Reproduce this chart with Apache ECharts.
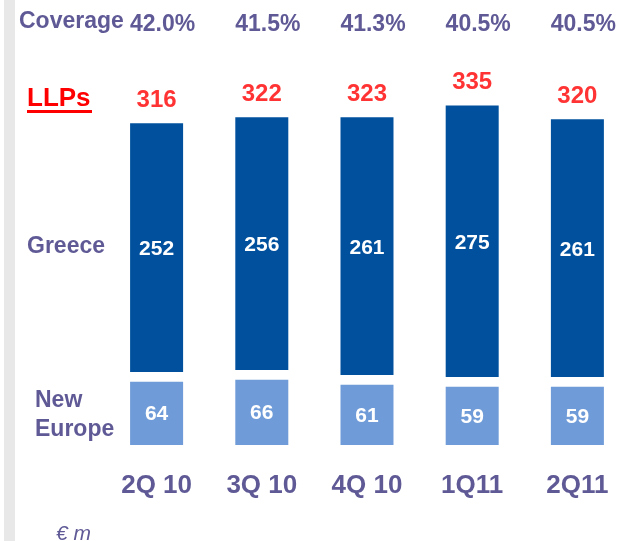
<!DOCTYPE html>
<html>
<head>
<meta charset="utf-8">
<script src="https://cdn.jsdelivr.net/npm/echarts@6/dist/echarts.min.js"></script>
<style>
html,body{margin:0;padding:0;background:#fff;}
#c{width:619px;height:541px;}
</style>
</head>
<body>
<div id="c"></div>
<script>
// ---- data ----
const categories = ['2Q 10', '3Q 10', '4Q 10', '1Q11', '2Q11'];
const coverage = ['42.0%', '41.5%', '41.3%', '40.5%', '40.5%'];
const newEurope = [64, 66, 61, 59, 59];
const greece = [252, 256, 261, 275, 261];
const totals = [316, 322, 323, 335, 320];
const seriesNames = ['New Europe', 'Greece'];

// ---- style ----
const FONT = '"Liberation Sans", Arial, sans-serif';
const PURPLE = '#5F5A96';
const RED = '#FF0000';
const DARK = '#00509E';
const LIGHT = '#6F9CD8';
const GAP = 10;      // visual gap between the two stacked segments (axis units)
const BAR_W = 53;    // bar width, px

const idx = categories.map((_, i) => i);

// segment renderer: item = [x, low, high, shownValue]
function segment(color, dy) {
  return function (params, api) {
    const x = api.value(0), lo = api.value(1), hi = api.value(2), shown = api.value(3);
    const p0 = api.coord([x, lo]);
    const p1 = api.coord([x, hi]);
    return {
      type: 'group',
      children: [
        {type: 'rect', shape: {x: p0[0] - BAR_W / 2, y: p1[1], width: BAR_W, height: p0[1] - p1[1]}, style: {fill: color}},
        {type: 'text', x: p0[0], y: (p0[1] + p1[1]) / 2 + dy,
          style: {text: String(shown), fill: '#fff', font: 'bold 21px ' + FONT, align: 'center', verticalAlign: 'middle'}}
      ]
    };
  };
}

const neData = newEurope.map((v, i) => [i, 0, v, v]);
const grData = greece.map((v, i) => [i, newEurope[i] + GAP, newEurope[i] + GAP + v, v]);

const chart = echarts.init(document.getElementById('c'), null, {renderer: 'canvas'});

const option = {
  animation: false,
  backgroundColor: '#ffffff',
  grid: {left: 104, right: 0, top: 60, bottom: 96, containLabel: false},
  xAxis: [
    {
      type: 'value', min: -0.5, max: 4.358, position: 'bottom',
      axisLine: {show: false}, axisTick: {show: false}, splitLine: {show: false},
      axisLabel: {customValues: idx, margin: 28, fontSize: 26, fontWeight: 'bold', color: PURPLE, fontFamily: FONT,
        formatter: v => categories[Math.round(v)] || ''}
    },
    {
      type: 'value', min: -0.5, max: 4.358, position: 'top',
      axisLine: {show: false}, axisTick: {show: false}, splitLine: {show: false},
      axisLabel: {customValues: idx, margin: 24, fontSize: 23, fontWeight: 'bold', color: PURPLE, fontFamily: FONT,
        padding: [0, 0, 0, 12], formatter: v => coverage[Math.round(v)] || ''}
    }
  ],
  yAxis: {type: 'value', min: 0, max: 390, show: false, splitLine: {show: false}},
  series: [
    {name: seriesNames[0], type: 'custom', data: neData, renderItem: segment(LIGHT, 1), encode: {x: 0, y: [1, 2]}},
    {name: seriesNames[1], type: 'custom', data: grData, renderItem: segment(DARK, 2), encode: {x: 0, y: [1, 2]}},
    {
      name: 'LLPs', type: 'scatter', symbolSize: 0,
      data: grData.map(d => [d[0], d[2]]),
      label: {show: true, position: 'top', distance: 11, color: RED, fontSize: 24, fontWeight: 'bold', fontFamily: FONT,
        formatter: p => String(totals[p.dataIndex])}
    }
  ],
  graphic: [
    {type: 'rect', left: 4, top: 0, shape: {width: 11, height: 541}, style: {fill: '#E8E8E8'}, z: -1},
    {type: 'text', left: 19, top: 10, style: {text: 'Coverage', font: 'bold 23px ' + FONT, fill: PURPLE}},
    {type: 'text', left: 27, top: 86, style: {text: 'LLPs', font: 'bold 26px ' + FONT, fill: RED}},
    {type: 'rect', left: 27, top: 110, shape: {width: 65, height: 3}, style: {fill: RED}},
    {type: 'text', left: 27, top: 235, style: {text: seriesNames[1], font: 'bold 23px ' + FONT, fill: PURPLE}},
    {type: 'text', left: 35, top: 386, style: {text: 'New\nEurope', font: 'bold 23px ' + FONT, fill: PURPLE, lineHeight: 29}},
    {type: 'text', left: 56, top: 524, style: {text: '€ m', font: 'italic 21px ' + FONT, fill: PURPLE}}
  ]
};
chart.setOption(option);
</script>
</body>
</html>
